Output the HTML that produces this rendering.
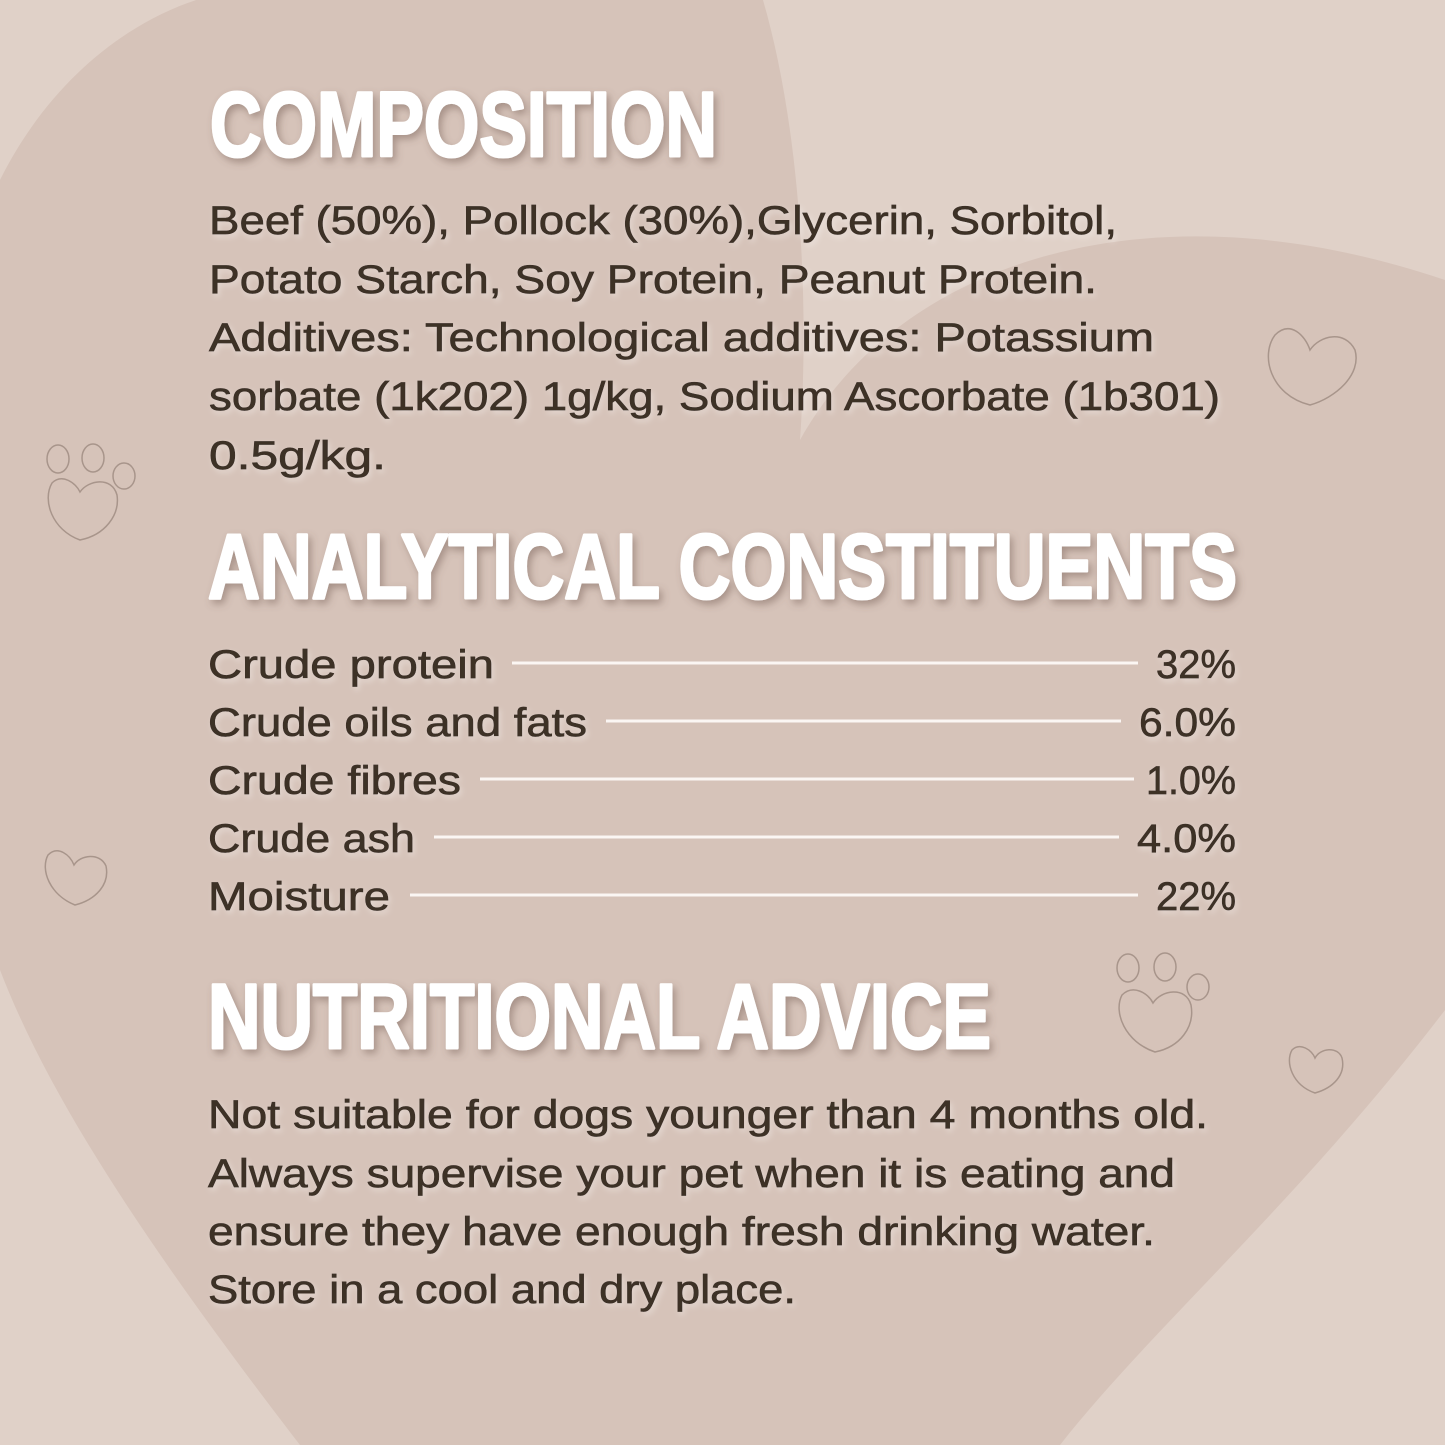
<!DOCTYPE html>
<html><head><meta charset="utf-8"><style>
html,body{margin:0;padding:0;background:#e0d1c8}
svg{display:block}
.b{font-family:"Liberation Sans",sans-serif;font-size:40px;fill:#3d3028;stroke:#3d3028;stroke-width:0.7}
.h{font-family:"Liberation Sans",sans-serif;font-weight:bold;font-size:92px;fill:#fff;stroke:#fff;stroke-width:3;stroke-linejoin:round}
</style></head><body>
<svg width="1445" height="1445" viewBox="0 0 1445 1445" xmlns="http://www.w3.org/2000/svg">
<defs>
<filter id="sh" x="-5%" y="-20%" width="110%" height="140%"><feDropShadow dx="3" dy="4" stdDeviation="4" flood-color="#6a5448" flood-opacity="0.45"/></filter>
<filter id="sb" x="-5%" y="-20%" width="110%" height="140%"><feDropShadow dx="2" dy="3" stdDeviation="3" flood-color="#fff" flood-opacity="0.35"/></filter>
</defs>
<rect width="1445" height="1445" fill="#e0d1c8"/>
<path d="M0,180 C60,60 160,0 240,-10 L760,-10 C800,120 810,300 800,440 C900,260 1150,180 1445,280 L1445,1010 C1300,1200 1150,1330 1060,1445 L300,1445 C150,1250 50,1100 0,970 Z" fill="#d6c3b9"/>
<g fill="none" stroke="#a8958b" stroke-width="1.5">
<path d="M1310,405 C1270,395 1260,355 1275,335 C1290,320 1305,335 1310,350 C1320,335 1345,330 1355,350 C1362,375 1335,398 1310,405Z"/>
<path d="M75,905 C50,895 40,870 48,855 C58,845 70,855 74,865 C80,855 100,852 106,866 C110,885 95,900 75,905Z"/>
<path d="M1315,1093 C1292,1085 1285,1062 1292,1050 C1300,1042 1312,1050 1315,1058 C1320,1048 1338,1046 1342,1058 C1346,1075 1333,1088 1315,1093Z"/>
<path d="M80,540 C52,530 42,500 52,483 C62,473 76,483 80,492 C88,480 112,476 117,495 C120,515 105,535 80,540Z"/>
<ellipse cx="58" cy="459" rx="11" ry="14"/><ellipse cx="93" cy="458" rx="11" ry="14"/><ellipse cx="124" cy="476" rx="11" ry="13"/>
<path d="M1155,1052 C1125,1042 1113,1012 1122,995 C1133,984 1148,993 1153,1003 C1161,990 1186,986 1191,1005 C1195,1027 1180,1047 1155,1052Z"/>
<ellipse cx="1128" cy="968" rx="11" ry="14"/><ellipse cx="1165" cy="967" rx="11" ry="14"/><ellipse cx="1198" cy="987" rx="11" ry="13"/>
</g>
<g filter="url(#sh)">
<text class="h" x="210" y="156" textLength="507" lengthAdjust="spacingAndGlyphs">COMPOSITION</text>
<text class="h" x="208" y="598" textLength="1029" lengthAdjust="spacingAndGlyphs">ANALYTICAL CONSTITUENTS</text>
<text class="h" x="208" y="1048" textLength="783" lengthAdjust="spacingAndGlyphs">NUTRITIONAL ADVICE</text>
</g>
<g filter="url(#sb)">
<text class="b" x="209" y="234" textLength="908" lengthAdjust="spacingAndGlyphs">Beef (50%), Pollock (30%),Glycerin, Sorbitol,</text>
<text class="b" x="209" y="293" textLength="888" lengthAdjust="spacingAndGlyphs">Potato Starch, Soy Protein, Peanut Protein.</text>
<text class="b" x="209" y="351" textLength="945" lengthAdjust="spacingAndGlyphs">Additives: Technological additives: Potassium</text>
<text class="b" x="209" y="410" textLength="1011" lengthAdjust="spacingAndGlyphs">sorbate (1k202) 1g/kg, Sodium Ascorbate (1b301)</text>
<text class="b" x="209" y="469" textLength="177" lengthAdjust="spacingAndGlyphs">0.5g/kg.</text>

<text class="b" x="208" y="678" textLength="286" lengthAdjust="spacingAndGlyphs">Crude protein</text>
<text class="b" x="1156" y="678" textLength="80" lengthAdjust="spacingAndGlyphs">32%</text>
<text class="b" x="208" y="736" textLength="379" lengthAdjust="spacingAndGlyphs">Crude oils and fats</text>
<text class="b" x="1139" y="736" textLength="97" lengthAdjust="spacingAndGlyphs">6.0%</text>
<text class="b" x="208" y="794" textLength="253" lengthAdjust="spacingAndGlyphs">Crude fibres</text>
<text class="b" x="1146" y="794" textLength="90" lengthAdjust="spacingAndGlyphs">1.0%</text>
<text class="b" x="208" y="852" textLength="207" lengthAdjust="spacingAndGlyphs">Crude ash</text>
<text class="b" x="1137" y="852" textLength="99" lengthAdjust="spacingAndGlyphs">4.0%</text>
<text class="b" x="208" y="910" textLength="182" lengthAdjust="spacingAndGlyphs">Moisture</text>
<text class="b" x="1156" y="910" textLength="80" lengthAdjust="spacingAndGlyphs">22%</text>

<text class="b" x="208" y="1128" textLength="1000" lengthAdjust="spacingAndGlyphs">Not suitable for dogs younger than 4 months old.</text>
<text class="b" x="208" y="1187" textLength="967" lengthAdjust="spacingAndGlyphs">Always supervise your pet when it is eating and</text>
<text class="b" x="208" y="1245" textLength="947" lengthAdjust="spacingAndGlyphs">ensure they have enough fresh drinking water.</text>
<text class="b" x="208" y="1303" textLength="588" lengthAdjust="spacingAndGlyphs">Store in a cool and dry place.</text>
</g>
<g stroke="#fbf6f3" stroke-width="3">
<line x1="512" y1="663" x2="1138" y2="663"/>
<line x1="606" y1="721" x2="1121" y2="721"/>
<line x1="480" y1="779" x2="1134" y2="779"/>
<line x1="434" y1="837" x2="1119" y2="837"/>
<line x1="410" y1="895" x2="1138" y2="895"/>
</g>
</svg>
</body></html>
